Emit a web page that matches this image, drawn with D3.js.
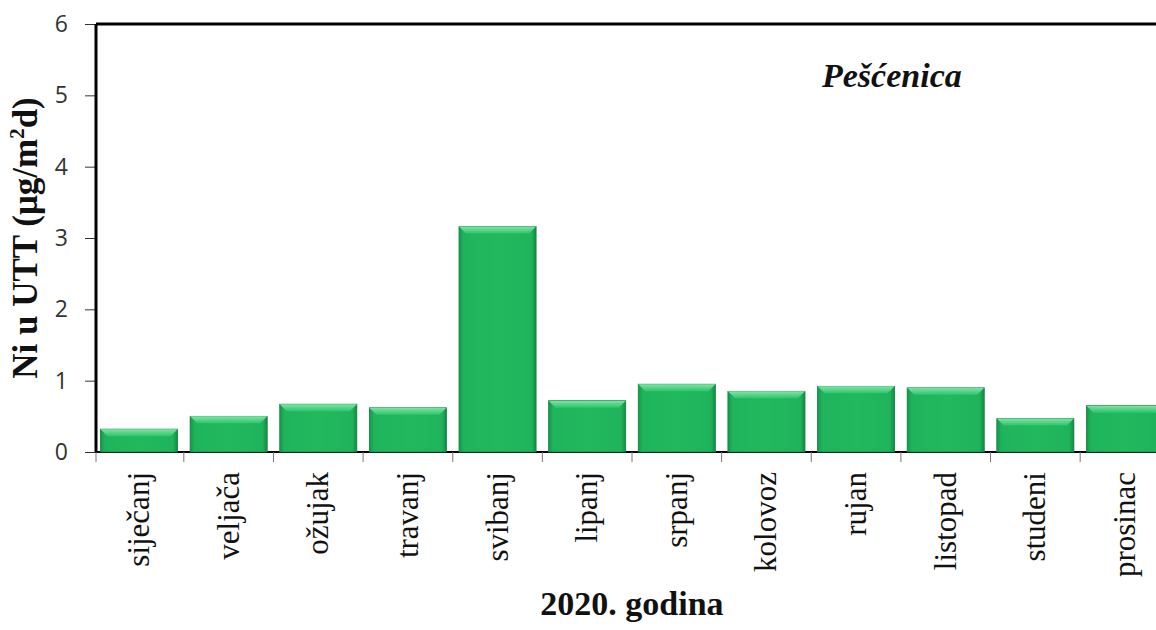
<!DOCTYPE html>
<html>
<head>
<meta charset="utf-8">
<script src="https://cdn.jsdelivr.net/npm/d3@7"></script>
<style>
  body { margin: 0; background: #fff; }
  .tick text { font-family: "Open Sans", sans-serif; }
</style>
</head>
<body>
<div id="chart"></div>
<script>
// chart data
const months = ["siječanj", "veljača", "ožujak", "travanj", "svibanj", "lipanj",
                "srpanj", "kolovoz", "rujan", "listopad", "studeni", "prosinac"];
const niValues = [0.32, 0.50, 0.67, 0.62, 3.16, 0.72, 0.95, 0.85, 0.92, 0.90, 0.47, 0.65];
const yTicks = [0, 1, 2, 3, 4, 5, 6];
const stationName = "Pešćenica";
const xTitle = "2020. godina";

const width = 1156, height = 630;
const plotLeft = 96, plotTop = 24, plotBottom = 452, plotRight = 1168; // plot runs past the crop

let svg = d3.select("#chart").append("svg")
    .attr("width", width)
    .attr("height", height);

let x = d3.scaleBand()
    .domain(months)
    .range([plotLeft, plotRight])
    .paddingInner(0.14)
    .paddingOuter(0.05);

let y = d3.scaleLinear()
    .domain([0, 6])
    .range([plotBottom, plotTop]);

// gradients for the bevelled bars
let defs = svg.append("defs");
defs.append("linearGradient")
    .attr("id", "barSide")
    .attr("x1", "0%").attr("x2", "100%").attr("y1", "0%").attr("y2", "0%")
  .selectAll("stop")
    .data([
      {offset: "0%", color: "#14964a"},
      {offset: "6%", color: "#1fb45c"},
      {offset: "50%", color: "#21b95d"},
      {offset: "94%", color: "#1fb45c"},
      {offset: "100%", color: "#118a41"}
    ])
  .enter().append("stop")
    .attr("offset", d => d.offset)
    .attr("stop-color", d => d.color);

defs.append("linearGradient")
    .attr("id", "barTop")
    .attr("x1", "0%").attr("x2", "0%").attr("y1", "0%").attr("y2", "100%")
  .selectAll("stop")
    .data([
      {offset: "0%", color: "#7fe4a4"},
      {offset: "100%", color: "#2fc46c"}
    ])
  .enter().append("stop")
    .attr("offset", d => d.offset)
    .attr("stop-color", d => d.color);

// x axis line (visible between bars)
svg.append("line")
    .attr("x1", plotLeft).attr("x2", plotRight)
    .attr("y1", y(0)).attr("y2", y(0))
    .attr("stroke", "#000").attr("stroke-width", 2);

// x tick marks at band boundaries
let bounds = months.map(m => x(m) - x.step() * x.paddingInner() / 2);
bounds[0] = plotLeft;
svg.selectAll(".xtick")
    .data(bounds)
    .enter().append("line")
    .attr("class", "xtick")
    .attr("x1", d => d).attr("x2", d => d)
    .attr("y1", y(0)).attr("y2", y(0) + 10)
    .attr("stroke", "#777").attr("stroke-width", 1);

// bars
let bars = svg.selectAll(".bar")
    .data(months.map((m, i) => ({month: m, value: niValues[i]})))
    .enter().append("g")
    .attr("class", "bar");

bars.append("rect")
    .attr("x", d => x(d.month))
    .attr("y", d => y(d.value))
    .attr("width", x.bandwidth())
    .attr("height", d => y(0) - y(d.value))
    .attr("fill", "url(#barSide)")
    .attr("stroke", "#128040")
    .attr("stroke-width", 0.8);

let bevel = 7;
bars.append("path")
    .attr("d", d => {
      let x0 = x(d.month), x1 = x0 + x.bandwidth(), yt = y(d.value);
      let b = Math.min(bevel, (y(0) - yt) / 2);
      return `M${x0},${yt} L${x1},${yt} L${x1 - b},${yt + b} L${x0 + b},${yt + b} Z`;
    })
    .attr("fill", "url(#barTop)");

// y axis
svg.append("g")
    .attr("transform", `translate(${plotLeft},0)`)
    .call(d3.axisLeft(y).tickValues(yTicks).tickFormat(d3.format("d")).tickSize(11).tickPadding(17))
    .call(g => g.select(".domain").remove())
    .call(g => g.selectAll(".tick line").attr("stroke", "#333"))
    .call(g => g.selectAll(".tick text").attr("font-size", 23).attr("fill", "#333"));

svg.append("line")
    .attr("x1", plotLeft).attr("x2", plotLeft)
    .attr("y1", y(6)).attr("y2", y(0))
    .attr("stroke", "#000").attr("stroke-width", 3);

// top border
svg.append("line")
    .attr("x1", plotLeft).attr("x2", plotRight)
    .attr("y1", y(6)).attr("y2", y(6))
    .attr("stroke", "#000").attr("stroke-width", 3);

// month labels
svg.selectAll(".mlabel")
    .data(months)
    .enter().append("text")
    .attr("class", "mlabel")
    .attr("transform", d => `translate(${x(d) + x.bandwidth() / 2 + 10},${y(0) + 20}) rotate(-90)`)
    .attr("text-anchor", "end")
    .attr("font-family", "Liberation Serif, serif")
    .attr("font-size", 31)
    .attr("fill", "#111")
    .text(d => d);

// y axis title
svg.append("text")
    .attr("transform", `translate(37,${(plotTop + plotBottom) / 2}) rotate(-90)`)
    .attr("text-anchor", "middle")
    .attr("font-family", "Liberation Serif, serif")
    .attr("font-weight", "bold")
    .attr("font-size", 35)
    .attr("fill", "#111")
    .html('Ni u UTT (μg/m<tspan dy="-13" font-size="21">2</tspan><tspan dy="13">d)</tspan>');

// x axis title
svg.append("text")
    .attr("x", (plotLeft + plotRight) / 2)
    .attr("y", 615)
    .attr("text-anchor", "middle")
    .attr("font-family", "Liberation Serif, serif")
    .attr("font-weight", "bold")
    .attr("font-size", 34)
    .attr("fill", "#111")
    .text(xTitle);

// station title
svg.append("text")
    .attr("x", 822)
    .attr("y", 87)
    .attr("font-family", "Liberation Serif, serif")
    .attr("font-weight", "bold")
    .attr("font-style", "italic")
    .attr("font-size", 34)
    .attr("fill", "#111")
    .text(stationName);
</script>
</body>
</html>
